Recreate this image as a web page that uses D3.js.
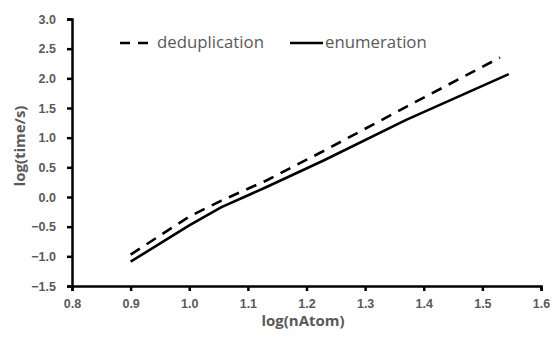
<!DOCTYPE html>
<html><head><meta charset="utf-8">
<script src="https://cdn.jsdelivr.net/npm/d3@7"></script>
<style>body{margin:0;background:#fff}svg{display:block}</style>
</head><body>
<svg id="c" width="552" height="339"></svg>
<script>
const xTicks = [0.8, 0.9, 1.0, 1.1, 1.2, 1.3, 1.4, 1.5, 1.6];
const yTicks = [-1.5, -1.0, -0.5, 0.0, 0.5, 1.0, 1.5, 2.0, 2.5, 3.0];
const dedupX = [0.90, 1.00, 1.055, 1.13, 1.23, 1.37, 1.53];
const dedupY = [-0.97, -0.33, -0.06, 0.27, 0.78, 1.52, 2.35];
const enumX  = [0.90, 1.00, 1.055, 1.13, 1.23, 1.37, 1.545];
const enumY  = [-1.09, -0.48, -0.17, 0.16, 0.62, 1.30, 2.07];
const seriesNames = ["deduplication", "enumeration"];

const svg = d3.select("#c");
const x = d3.scaleLinear().domain([0.8, 1.6]).range([72, 541]);
const y = d3.scaleLinear().domain([-1.5, 3.0]).range([286, 19]);
const grey = "#595959";

const xa = svg.append("g").attr("transform", "translate(0,286)")
  .call(d3.axisBottom(x).tickValues(xTicks).tickFormat(d3.format(".1f")).tickSizeOuter(0).tickSize(5).tickPadding(8));
const ya = svg.append("g").attr("transform", "translate(72,0)")
  .call(d3.axisLeft(y).tickValues(yTicks).tickFormat(d3.format(".1f")).tickSizeOuter(0).tickSize(5).tickPadding(11));
[xa, ya].forEach(a => {
  a.select(".domain").attr("stroke", "#000").attr("stroke-width", 2.5);
  a.selectAll(".tick line").attr("stroke", "#000").attr("stroke-width", 2.5);
  a.selectAll(".tick text").attr("fill", grey).attr("font-family", "'Liberation Sans', Arial, sans-serif")
    .attr("font-weight", "bold").attr("font-size", 12.5);
});
xa.selectAll(".tick text").attr("dy", "0.71em");

const line = d3.line().x(d => x(d[0])).y(d => y(d[1]));
const dd = dedupX.map((v, i) => [v, dedupY[i]]);
const en = enumX.map((v, i) => [v, enumY[i]]);
svg.append("path").attr("d", line(dd)).attr("fill", "none").attr("stroke", "#000")
  .attr("stroke-width", 2.6).attr("stroke-dasharray", "11,8").attr("stroke-linejoin", "round");
svg.append("path").attr("d", line(en)).attr("fill", "none").attr("stroke", "#000")
  .attr("stroke-width", 2.6).attr("stroke-linejoin", "round");

// axis titles
svg.append("text").attr("x", 303).attr("y", 326).attr("text-anchor", "middle")
  .attr("fill", grey).attr("font-family", "'Open Sans', sans-serif").attr("font-weight", "bold")
  .attr("font-size", 15).text("log(nAtom)");
svg.append("text").attr("transform", "translate(25,146) rotate(-90)").attr("text-anchor", "middle")
  .attr("fill", grey).attr("font-family", "'Open Sans', sans-serif").attr("font-weight", "bold")
  .attr("font-size", 15).text("log(time/s)");

// legend
const lg = svg.append("g");
lg.append("line").attr("x1", 120).attr("x2", 151).attr("y1", 43).attr("y2", 43)
  .attr("stroke", "#000").attr("stroke-width", 2.6).attr("stroke-dasharray", "10,8");
lg.append("text").attr("x", 157).attr("y", 48).attr("fill", grey)
  .attr("font-family", "'Open Sans', sans-serif").attr("font-size", 16.8).text(seriesNames[0]);
lg.append("line").attr("x1", 290).attr("x2", 323).attr("y1", 43).attr("y2", 43)
  .attr("stroke", "#000").attr("stroke-width", 2.6);
lg.append("text").attr("x", 325).attr("y", 48).attr("fill", grey)
  .attr("font-family", "'Open Sans', sans-serif").attr("font-size", 16.8).text(seriesNames[1]);
</script>
</body></html>
